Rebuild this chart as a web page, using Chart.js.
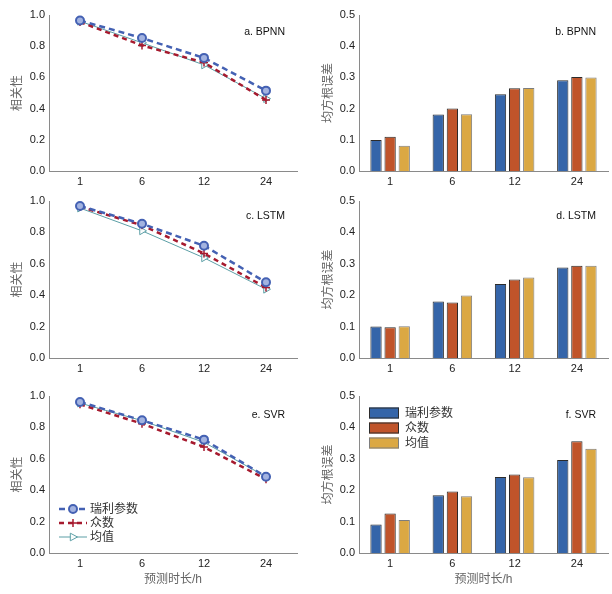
<!DOCTYPE html>
<html>
<head>
<meta charset="utf-8">
<title>预测时长对比</title>
<script src="https://cdn.jsdelivr.net/npm/chart.js@4.4.1/dist/chart.umd.min.js"></script>
<style>
    body { margin: 0; background: #fff; }
    #wrap { position: relative; width: 612px; height: 594px; }
    #wrap canvas { position: absolute; }
</style>
</head>
<body>
<div id="wrap"></div>
<script>
// ---- data ----
const horizons = ['1', '6', '12', '24'];
const seriesNames = ['瑞利参数', '众数', '均值'];
const corrTicks = [0, 0.2, 0.4, 0.6, 0.8, 1.0];
const rmseTicks = [0, 0.1, 0.2, 0.3, 0.4, 0.5];

// correlation (left column)
const bpnnCorrRayleigh = [0.965, 0.852, 0.725, 0.515];
const bpnnCorrMode     = [0.955, 0.805, 0.695, 0.455];
const bpnnCorrMean     = [0.960, 0.822, 0.680, 0.464];

const lstmCorrRayleigh = [0.968, 0.855, 0.715, 0.482];
const lstmCorrMode     = [0.964, 0.845, 0.666, 0.449];
const lstmCorrMean     = [0.955, 0.810, 0.638, 0.438];

const svrCorrRayleigh  = [0.962, 0.845, 0.722, 0.486];
const svrCorrMode      = [0.947, 0.824, 0.675, 0.470];
const svrCorrMean      = [0.955, 0.843, 0.705, 0.486];

// RMSE (right column)
const bpnnRmseRayleigh = [0.099, 0.181, 0.246, 0.291];
const bpnnRmseMode     = [0.110, 0.200, 0.265, 0.301];
const bpnnRmseMean     = [0.081, 0.182, 0.266, 0.300];

const lstmRmseRayleigh = [0.100, 0.180, 0.236, 0.288];
const lstmRmseMode     = [0.098, 0.177, 0.250, 0.294];
const lstmRmseMean     = [0.101, 0.199, 0.256, 0.294];

const svrRmseRayleigh  = [0.091, 0.184, 0.242, 0.296];
const svrRmseMode      = [0.126, 0.196, 0.250, 0.356];
const svrRmseMean      = [0.105, 0.181, 0.241, 0.332];

// ---- style ----
const FONT = "'Liberation Sans', 'Noto Sans CJK SC', sans-serif";
const AXIS_GRAY = '#8a8a8a';
const lineColors = ['#4461b3', '#a61a2e', '#5c9fa6'];
const barColors = ['#3565a9', '#c0542a', '#dba843'];
const barBorders = ['#2b2b2b', '#2b2b2b', '#7d7d7d'];

const cols = [
    { left: 0,   width: 306, yAxisW: 49, padRight: 9, titlePad: 10 },
    { left: 306, width: 306, yAxisW: 53, padRight: 4, titlePad: 15 }
];
const rows = [
    { top: 0,   height: 190, padTop: 15, xAxisH: 19, labelDy: 17 },
    { top: 190, height: 190, padTop: 11, xAxisH: 22, labelDy: 15 },
    { top: 380, height: 214, padTop: 16, xAxisH: 41, labelDy: 19 }
];

// panel titles and legends drawn on top of the chart
const extrasPlugin = {
    id: 'extras',
    afterDraw(chart, args, opts) {
        const ctx = chart.ctx;
        const area = chart.chartArea;
        ctx.save();
        ctx.fillStyle = '#111';
        ctx.font = '10.5px ' + FONT;
        ctx.textAlign = 'right';
        ctx.textBaseline = 'middle';
        ctx.fillText(opts.title, area.right - 12, area.top + opts.labelDy);

        if (opts.legend === 'line') {
            chart.data.datasets.forEach((ds, i) => {
                const y = area.top + 113 + i * 14;
                const x0 = area.left + 10, x1 = area.left + 38, xm = (x0 + x1) / 2;
                ctx.strokeStyle = ds.borderColor;
                ctx.lineWidth = ds.borderWidth;
                ctx.setLineDash(ds.borderDash || []);
                ctx.beginPath(); ctx.moveTo(x0, y); ctx.lineTo(x1, y); ctx.stroke();
                ctx.setLineDash([]);
                drawMarker(ctx, ds, xm, y);
                ctx.fillStyle = '#333';
                ctx.font = '12px ' + FONT;
                ctx.textAlign = 'left';
                ctx.fillText(ds.label, x1 + 3, y + 1);
            });
        } else if (opts.legend === 'box') {
            chart.data.datasets.forEach((ds, i) => {
                const y = area.top + 17 + i * 15;
                const x0 = area.left + 10;
                ctx.fillStyle = ds.backgroundColor;
                ctx.fillRect(x0, y - 5.5, 30, 11);
                ctx.strokeStyle = ds.borderColor;
                ctx.lineWidth = 1;
                ctx.strokeRect(x0 + 0.5, y - 5, 29, 10);
                ctx.fillStyle = '#333';
                ctx.font = '12px ' + FONT;
                ctx.textAlign = 'left';
                ctx.fillText(ds.label, x0 + 36, y + 1);
            });
        }
        ctx.restore();
    }
};

function drawMarker(ctx, ds, x, y) {
    const r = ds.pointRadius;
    ctx.lineWidth = ds.pointBorderWidth;
    ctx.strokeStyle = ds.pointBorderColor;
    ctx.fillStyle = ds.pointBackgroundColor;
    ctx.beginPath();
    if (ds.pointStyle === 'circle') {
        ctx.arc(x, y, r, 0, Math.PI * 2);
        ctx.fill(); ctx.stroke();
    } else if (ds.pointStyle === 'cross') {
        ctx.moveTo(x - r, y); ctx.lineTo(x + r, y);
        ctx.moveTo(x, y - r); ctx.lineTo(x, y + r);
        ctx.stroke();
    } else {
        ctx.moveTo(x + r, y); ctx.lineTo(x - r * 0.6, y - r * 0.85); ctx.lineTo(x - r * 0.6, y + r * 0.85);
        ctx.closePath();
        ctx.fill(); ctx.stroke();
    }
}

function lineSets(a, b, c) {
    return [
        { label: seriesNames[0], data: a, borderColor: lineColors[0], borderWidth: 2.5, borderDash: [6, 4],
          pointStyle: 'circle', pointRadius: 4, pointBorderWidth: 2, pointBorderColor: lineColors[0],
          pointBackgroundColor: '#a3b3e0' },
        { label: seriesNames[1], data: b, borderColor: lineColors[1], borderWidth: 2.5, borderDash: [5, 4],
          pointStyle: 'cross', pointRadius: 4, pointBorderWidth: 1.5, pointBorderColor: lineColors[1],
          pointBackgroundColor: lineColors[1] },
        { label: seriesNames[2], data: c, borderColor: lineColors[2], borderWidth: 1, borderDash: [],
          pointStyle: 'triangle', pointRotation: 90, pointRadius: 4.5, pointBorderWidth: 1,
          pointBorderColor: lineColors[2], pointBackgroundColor: 'rgba(255,255,255,0.9)' }
    ];
}

function barSets(a, b, c) {
    return [a, b, c].map((d, i) => ({
        label: seriesNames[i], data: d,
        backgroundColor: barColors[i], borderColor: barBorders[i], borderWidth: 1,
        categoryPercentage: 0.68, barPercentage: 0.8
    }));
}

function makePanel(col, row, type, datasets, ticks, yTitle, title, legend, xTitle) {
    const c = cols[col], r = rows[row];
    const canvas = document.createElement('canvas');
    canvas.style.left = c.left + 'px';
    canvas.style.top = r.top + 'px';
    canvas.style.width = c.width + 'px';
    canvas.style.height = r.height + 'px';
    canvas.width = c.width;
    canvas.height = r.height;
    document.getElementById('wrap').appendChild(canvas);

    new Chart(canvas.getContext('2d'), {
        type: type,
        data: { labels: horizons, datasets: datasets },
        plugins: [extrasPlugin],
        options: {
            responsive: false,
            animation: false,
            layout: { padding: { top: r.padTop, right: c.padRight, left: 0, bottom: 0 } },
            plugins: {
                legend: { display: false },
                tooltip: { enabled: false },
                extras: { title: title, legend: legend, labelDy: r.labelDy }
            },
            scales: {
                x: {
                    offset: true,
                    grid: { display: false, drawTicks: false },
                    border: { color: AXIS_GRAY, width: 1 },
                    ticks: { color: '#222', font: { family: FONT, size: 11 }, padding: 4, maxRotation: 0 },
                    title: {
                        display: !!xTitle, text: xTitle || '', color: '#666',
                        font: { family: FONT, size: 12 }, padding: { top: 0, bottom: 7 }
                    },
                    afterFit(scale) { scale.height = r.xAxisH; }
                },
                y: {
                    min: ticks[0], max: ticks[ticks.length - 1],
                    grid: { display: false, drawTicks: false },
                    border: { color: AXIS_GRAY, width: 1 },
                    afterBuildTicks(scale) { scale.ticks = ticks.map(v => ({ value: v })); },
                    ticks: {
                        color: '#222', font: { family: FONT, size: 11 }, padding: 4,
                        callback: v => Number(v).toFixed(1)
                    },
                    title: {
                        display: true, text: yTitle, color: '#666',
                        font: { family: FONT, size: 12 }, padding: { top: c.titlePad, bottom: 0 }
                    },
                    afterFit(scale) { scale.width = c.yAxisW; }
                }
            }
        }
    });
}

makePanel(0, 0, 'line', lineSets(bpnnCorrRayleigh, bpnnCorrMode, bpnnCorrMean), corrTicks, '相关性', 'a. BPNN', null, null);
makePanel(1, 0, 'bar', barSets(bpnnRmseRayleigh, bpnnRmseMode, bpnnRmseMean), rmseTicks, '均方根误差', 'b. BPNN', null, null);
makePanel(0, 1, 'line', lineSets(lstmCorrRayleigh, lstmCorrMode, lstmCorrMean), corrTicks, '相关性', 'c. LSTM', null, null);
makePanel(1, 1, 'bar', barSets(lstmRmseRayleigh, lstmRmseMode, lstmRmseMean), rmseTicks, '均方根误差', 'd. LSTM', null, null);
makePanel(0, 2, 'line', lineSets(svrCorrRayleigh, svrCorrMode, svrCorrMean), corrTicks, '相关性', 'e. SVR', 'line', '预测时长/h');
makePanel(1, 2, 'bar', barSets(svrRmseRayleigh, svrRmseMode, svrRmseMean), rmseTicks, '均方根误差', 'f. SVR', 'box', '预测时长/h');
</script>
</body>
</html>
